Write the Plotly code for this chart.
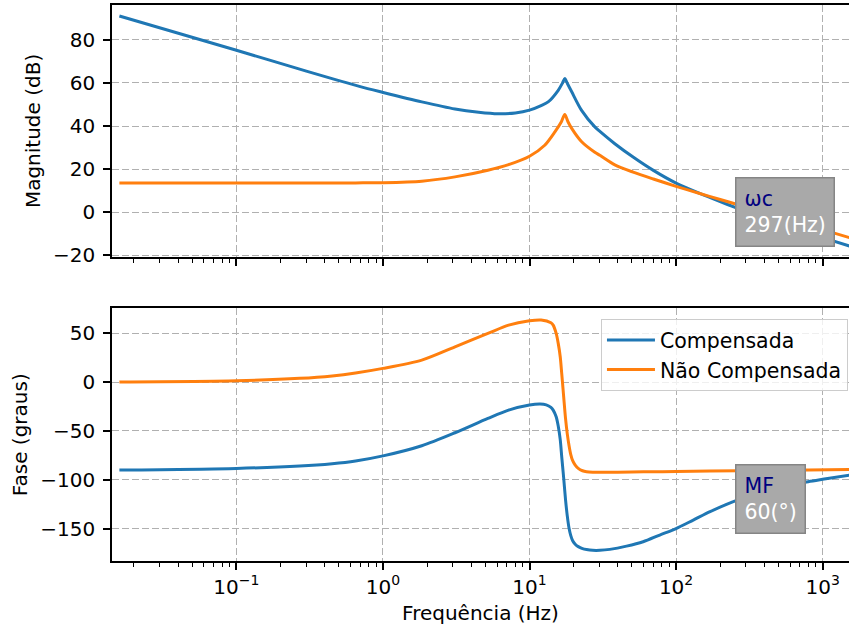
import math
import plotly.graph_objects as go

# ---------------- data ----------------
freq_mag_comp = [0.0159, 0.1, 0.3, 0.69, 1.0, 1.84, 3.1, 4.5, 6.1, 8.0, 10.0, 12.0, 13.4,
                 15.7, 16.8, 17.4, 18.2, 19.4, 22.6, 27.9, 30.2, 38.2, 50.9, 70.0, 100.0,
                 145.0, 200.0, 258.0, 297.0, 400.0, 500.0, 700.0, 1000.0, 1591.0]
mag_comp = [91.1, 75.2, 65.5, 58.4, 55.6, 51.2, 47.9, 46.4, 45.7, 46.1, 47.4, 49.5, 51.2,
            56.6, 60.0, 62.1, 59.5, 55.9, 47.4, 39.6, 37.5, 31.8, 25.6, 19.4, 13.5,
            8.7, 4.9, 2.0, 0.4, -2.8, -5.1, -8.4, -11.8, -16.1]

freq_mag_unc = [0.0159, 0.65, 1.0, 1.84, 3.1, 5.2, 7.2, 10.0, 12.7, 14.9, 16.5, 17.4, 18.3,
                19.4, 22.6, 27.9, 30.2, 38.2, 50.9, 70.0, 100.0, 145.0, 200.0, 258.0,
                400.0, 500.0, 700.0, 1000.0, 1591.0]
mag_unc = [13.5, 13.6, 13.7, 14.4, 16.4, 19.5, 22.1, 26.0, 31.1, 37.3, 42.0, 45.4, 42.0,
           38.9, 32.8, 27.8, 26.4, 22.0, 18.6, 15.4, 12.0, 8.7, 5.9, 3.7,
           -0.2, -2.1, -5.0, -8.1, -12.2]

freq_ph_comp = [0.0159, 0.1, 0.27, 0.45, 0.65, 1.0, 1.84, 3.1, 5.2, 7.2, 10.0, 11.8, 13.0, 14.0,
                14.5, 15.2, 15.7, 16.2, 16.6, 17.1, 17.6, 18.1, 18.6, 19.1, 19.7, 20.5,
                21.5, 23.0, 24.5, 27.0, 30.2, 35.3, 45.9, 59.6, 77.4, 100.0, 131.0, 170.6,
                221.0, 259.0, 297.0, 400.0, 500.0, 650.0, 798.0, 1000.0, 1591.0]
ph_comp = [-90.1, -88.4, -86.0, -83.6, -80.8, -75.6, -65.2, -51.9, -37.2, -28.7, -23.5, -22.5, -23.3, -25.9,
           -28.7, -35.5, -45.0, -59.0, -77.0, -98.0, -120.0, -137.0, -149.5, -157.0, -162.5, -166.0,
           -168.5, -170.5, -171.5, -172.3, -172.3, -171.3, -168.0, -163.5, -156.6, -150.0, -141.3, -132.7,
           -125.2, -121.2, -118.5, -112.0, -108.3, -104.7, -102.0, -99.6, -94.9]

freq_ph_unc = [0.0159, 0.1, 0.27, 0.45, 0.65, 1.0, 1.84, 3.1, 5.2, 7.2, 10.0, 12.0, 14.0, 14.5,
               15.2, 15.7, 16.2, 16.6, 17.1, 17.6, 18.1, 18.6, 19.1, 19.7, 20.5, 21.5,
               23.0, 24.5, 27.0, 30.0, 40.0, 60.0, 100.0, 270.0, 800.0, 1591.0]
ph_unc = [0.1, 1.4, 3.8, 6.3, 9.3, 14.0, 22.5, 36.1, 49.8, 58.3, 62.7, 63.5, 60.7, 58.3,
          49.8, 39.6, 25.9, 8.0, -15.0, -37.0, -53.0, -65.0, -74.0, -80.5, -85.0, -88.4,
          -90.8, -91.8, -92.3, -92.4, -92.4, -91.9, -91.6, -90.8, -90.0, -89.6]

x_tickvals = [0.1, 1, 10, 100, 1000]
x_ticktext = ["10<sup>\u22121</sup>", "10<sup>0</sup>", "10<sup>1</sup>", "10<sup>2</sup>", "10<sup>3</sup>"]
mag_tickvals = [-20, 0, 20, 40, 60, 80]
mag_ticktext = ["\u221220", "0", "20", "40", "60", "80"]
ph_tickvals = [-150, -100, -50, 0, 50]
ph_ticktext = ["\u2212150", "\u2212100", "\u221250", "0", "50"]

wc_hz = 297
mf_deg = 60
mf_phase = -180 + mf_deg

BLUE = "#1f77b4"
ORANGE = "#ff7f0e"
FONT = "DejaVu Sans"
FS = 20

line_kw = dict(width=3, shape="spline", smoothing=0.8)

fig = go.Figure()
fig.add_trace(go.Scatter(x=freq_mag_comp, y=mag_comp, mode="lines", name="Compensada",
                         line=dict(line_kw, color=BLUE), xaxis="x", yaxis="y", showlegend=False))
fig.add_trace(go.Scatter(x=freq_mag_unc, y=mag_unc, mode="lines", name="Não Compensada",
                         line=dict(line_kw, color=ORANGE), xaxis="x", yaxis="y", showlegend=False))
fig.add_trace(go.Scatter(x=freq_ph_comp, y=ph_comp, mode="lines", name="Compensada",
                         line=dict(line_kw, color=BLUE), xaxis="x2", yaxis="y2"))
fig.add_trace(go.Scatter(x=freq_ph_unc, y=ph_unc, mode="lines", name="Não Compensada",
                         line=dict(line_kw, color=ORANGE), xaxis="x2", yaxis="y2"))

xcommon = dict(type="log", range=[-1.849, 3.18], showline=True, linecolor="black", linewidth=1.6,
               mirror=True, ticks="outside", ticklen=7, tickwidth=1.6, tickcolor="black",
               tickmode="array", tickvals=x_tickvals, ticktext=x_ticktext,
               showgrid=True, gridcolor="#b0b0b0", gridwidth=1.2, griddash="7px,3px",
               zeroline=False,
               minor=dict(ticks="outside", ticklen=4, tickwidth=1.2, tickcolor="black",
                          dtick="D1", showgrid=False),
               tickfont=dict(family=FONT, size=FS, color="black"))
ycommon = dict(showline=True, linecolor="black", linewidth=1.6, mirror=False,
               ticks="outside", ticklen=7, tickwidth=1.6, tickcolor="black",
               showgrid=True, gridcolor="#b0b0b0", gridwidth=1.2, griddash="7px,3px",
               zeroline=False, tickmode="array", ticklabelstandoff=4,
               tickfont=dict(family=FONT, size=FS, color="black"))

fig.update_layout(
    width=849, height=630,
    margin=dict(l=112, r=0, t=5, b=69),
    paper_bgcolor="white", plot_bgcolor="white",
    font=dict(family=FONT, size=FS, color="black"),
    xaxis=dict(xcommon, domain=[0, 1], anchor="y", showticklabels=False, matches="x2"),
    xaxis2=dict(xcommon, domain=[0, 1], anchor="y2",
                title=dict(text="Frequência (Hz)", standoff=8,
                           font=dict(family=FONT, size=FS, color="black"))),
    yaxis=dict(ycommon, domain=[0.547, 1], anchor="x", range=[-20.75, 96.2],
               tickvals=mag_tickvals, ticktext=mag_ticktext,
               title=dict(text="Magnitude (dB)", standoff=7,
                          font=dict(family=FONT, size=FS, color="black"))),
    yaxis2=dict(ycommon, domain=[0, 0.4543], anchor="x2", range=[-183.2, 75.4],
                tickvals=ph_tickvals, ticktext=ph_ticktext,
                title=dict(text="Fase (graus)", standoff=7,
                           font=dict(family=FONT, size=FS, color="black"))),
    legend=dict(x=0.9986, xanchor="right", y=0.435, yanchor="top",
                bgcolor="rgba(255,255,255,0.8)", bordercolor="#cccccc", borderwidth=1,
                font=dict(family=FONT, size=20.5, color="black"), tracegroupgap=0,
                itemwidth=48),
    showlegend=True,
)

box = dict(showarrow=False, xanchor="left", yanchor="middle", align="left", xshift=-10,
           bgcolor="#a9a9a9", bordercolor="#858585", borderwidth=1.5, borderpad=8,
           font=dict(family=FONT, size=20.5, color="white"))
fig.add_annotation(box, x=math.log10(wc_hz), y=0, xref="x", yref="y",
                   text=f"<span style='color:#000080'>ωc</span><br>{wc_hz}(Hz)")
fig.add_annotation(box, x=math.log10(wc_hz), y=mf_phase, xref="x2", yref="y2",
                   text=f"<span style='color:#000080'>MF</span><br>{mf_deg}(°)")

fig.write_html("out.html", config={"displayModeBar": False},
               post_script="document.body.style.margin='0';document.body.style.overflow='hidden';")
